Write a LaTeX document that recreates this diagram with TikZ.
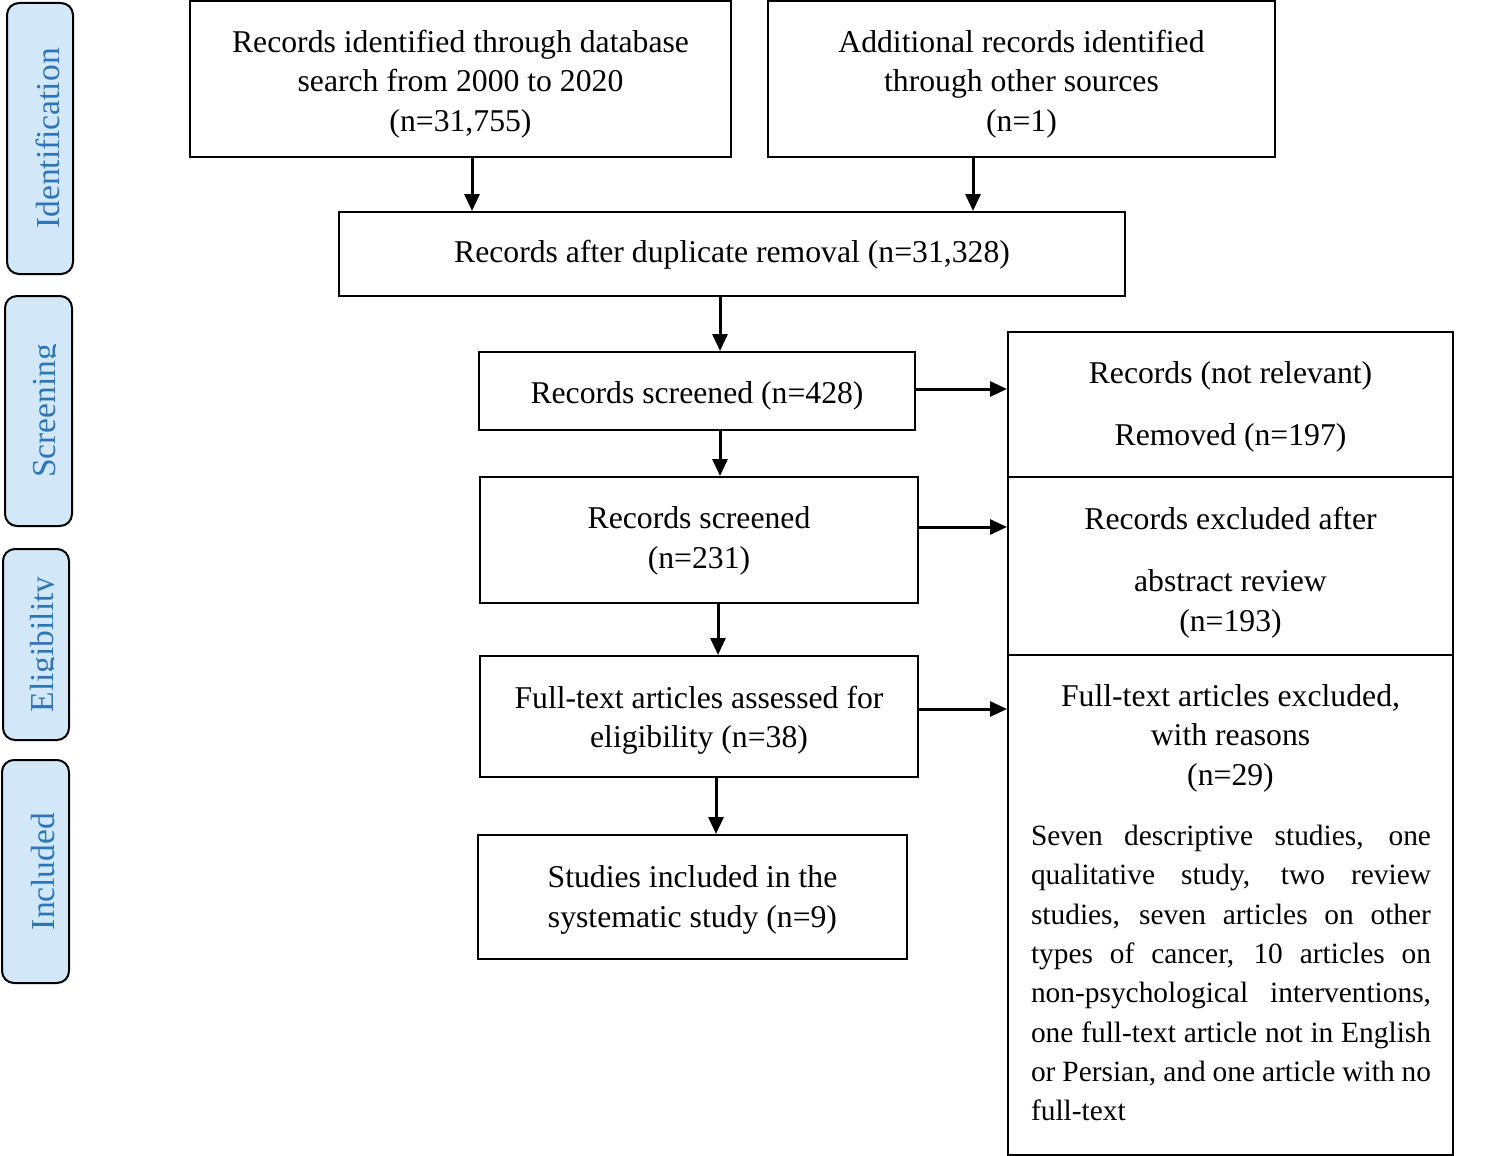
\documentclass[tikz,border=0pt]{standalone}
\usepackage{fontspec}
\setmainfont{Liberation Serif}
\usetikzlibrary{arrows.meta}
\definecolor{sidefill}{RGB}{210,232,249}
\definecolor{sidetext}{RGB}{46,117,182}
\begin{document}
\begin{tikzpicture}[x=1pt,y=-1pt,
  box/.style={draw, line width=2pt, inner sep=0pt},
  txt/.style={align=center, inner sep=0pt, font=\fontsize{31.7}{39.5}\selectfont},
  ptxt/.style={align=center, inner sep=0pt, font=\fontsize{29.4}{39.3}\selectfont},
  side/.style={draw, line width=2pt, rounded corners=12pt, fill=sidefill, inner sep=0pt},
  sidelabel/.style={rotate=90, anchor=base, inner sep=0pt, text=sidetext, font=\fontsize{33.5}{40}\selectfont},
  arr/.style={line width=3pt, -{Triangle[length=17pt,width=15pt]}}]
\useasboundingbox (0,0) rectangle (1500,1156);

% side labels
\node[side, minimum width=66pt, minimum height=271pt] (s1) at (40,138.5) {};
\node[side, minimum width=67pt, minimum height=230pt] (s2) at (38.5,411) {};
\node[side, minimum width=66pt, minimum height=191pt] (s3) at (36,644.5) {};
\node[side, minimum width=67pt, minimum height=223pt] (s4) at (35.5,871.5) {};
\node[sidelabel] (l1) at (59,138.5) {Identification};
\begin{scope}
  \clip (0,296) rectangle (55,526);
  \node[sidelabel] (l2) at (55,411) {Screening};
\end{scope}
\begin{scope}
  \clip (0,549) rectangle (53,740);
  \node[sidelabel] (l3) at (53,644.5) {Eligibility};
\end{scope}
\node[sidelabel] (l4) at (54,871.5) {Included};

% main boxes
\node[box, minimum width=541pt, minimum height=156pt] (A) at (460.5,79) {};
\node[txt] (At) at (460.5,84)
  {Records identified through database\\search from 2000 to 2020\\(n=31,755)};
\node[box, minimum width=507pt, minimum height=156pt] (B) at (1021.5,79) {};
\node[txt] (Bt) at (1021.5,84)
  {Additional records identified\\through other sources\\(n=1)};
\node[box, minimum width=786pt, minimum height=84pt] (C) at (732,254) {};
\node[txt] (Ct) at (732,255) {Records after duplicate removal (n=31,328)};
\node[box, minimum width=436pt, minimum height=78pt] (D) at (697,391) {};
\node[txt] (Dt) at (697,396) {Records screened (n=428)};
\node[box, minimum width=438pt, minimum height=126pt] (E) at (699,540) {};
\node[txt] (Et) at (699,541) {Records screened\\(n=231)};
\node[box, minimum width=438pt, minimum height=121pt] (F) at (699,716.5) {};
\node[txt] (Ft) at (699,720.5) {Full-text articles assessed for\\eligibility (n=38)};
\node[box, minimum width=429pt, minimum height=124pt] (G) at (692.5,897) {};
\node[txt] (Gt) at (692.5,900) {Studies included in the\\systematic study (n=9)};

% right boxes
\node[box, minimum width=445pt, minimum height=145pt] (R1) at (1230.5,404.5) {};
\node[txt] (R1t) at (1230.5,406.5) {Records (not relevant)\\[22.5pt]Removed (n=197)};
\node[box, minimum width=445pt, minimum height=178pt] (R2) at (1230.5,566) {};
\node[txt] (R2t) at (1230.5,572.5)
  {Records excluded after\\[22.5pt]abstract review\\(n=193)};
\node[box, minimum width=445pt, minimum height=500pt] (R3) at (1230.5,905) {};
\node[txt] (R3h) at (1230.5,738)
  {Full-text articles excluded,\\with reasons\\(n=29)};
\node[ptxt] (R3p) at (1231,973)
  {\makebox[400pt][s]{Seven descriptive studies, one}\\
   \makebox[400pt][s]{qualitative study, two review}\\
   \makebox[400pt][s]{studies, seven articles on other}\\
   \makebox[400pt][s]{types of cancer, 10 articles on}\\
   \makebox[400pt][s]{non-psychological interventions,}\\
   \makebox[400pt][s]{one full-text article not in English}\\
   \makebox[400pt][s]{or Persian, and one article with no}\\
   \makebox[400pt][l]{full-text}};

% arrow x positions
\coordinate (xa) at (472,0);
\coordinate (xb) at (973,0);
\coordinate (xc) at (720,0);
\coordinate (xd) at (720,0);
\coordinate (xe) at (718,0);
\coordinate (xf) at (716,0);
\coordinate (yd) at (0,389);
\coordinate (ye) at (0,527);
\coordinate (yf) at (0,709);

\draw[arr] (xa |- A.south) -- (xa |- C.north);
\draw[arr] (xb |- B.south) -- (xb |- C.north);
\draw[arr] (xc |- C.south) -- (xc |- D.north);
\draw[arr] (xd |- D.south) -- (xd |- E.north);
\draw[arr] (xe |- E.south) -- (xe |- F.north);
\draw[arr] (xf |- F.south) -- (xf |- G.north);
\draw[arr] (D.east |- yd) -- (R1.west |- yd);
\draw[arr] (E.east |- ye) -- (R2.west |- ye);
\draw[arr] (F.east |- yf) -- (R3.west |- yf);
\end{tikzpicture}
\end{document}
